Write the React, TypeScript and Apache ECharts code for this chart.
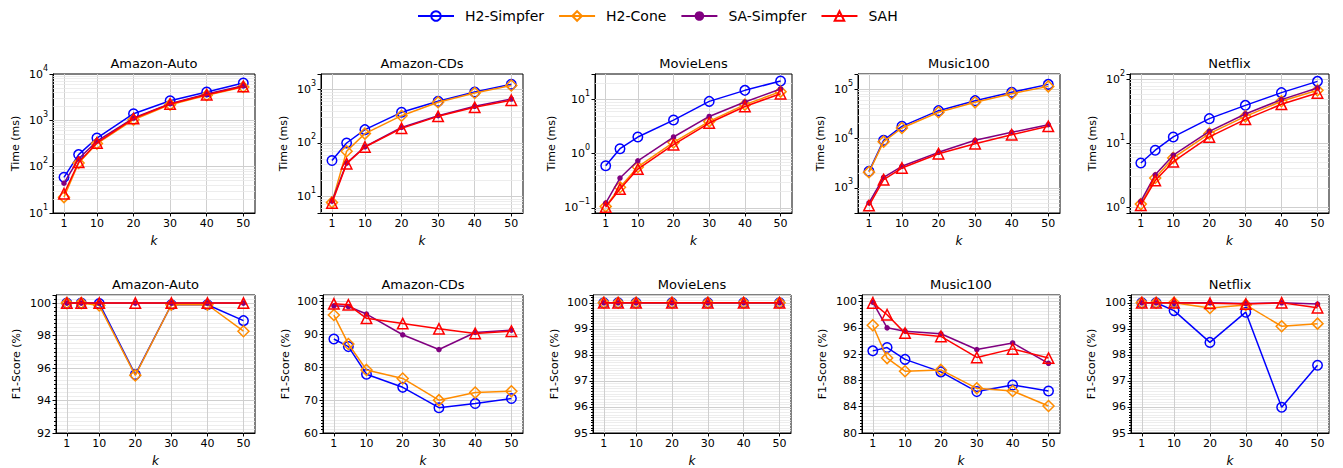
import React, { useEffect, useRef } from 'react';
import * as echarts from 'echarts';

const K = [1, 5, 10, 20, 30, 40, 50];
const X_TICKS = [1, 10, 20, 30, 40, 50];
const DATASETS = ['Amazon-Auto', 'Amazon-CDs', 'MovieLens', 'Music100', 'Netflix'];
const METHODS = ['H2-Simpfer', 'H2-Cone', 'SA-Simpfer', 'SAH'];

// ---- Time (ms) ----
const timeAutoH2S = [59, 182, 415, 1390, 2650, 4100, 6400];
const timeAutoH2C = [22, 120, 315, 1030, 2180, 3480, 5250];
const timeAutoSAS = [44, 148, 355, 1120, 2290, 3700, 5600];
const timeAutoSAH = [26, 124, 325, 1090, 2250, 3580, 5400];

const timeCDsH2S = [47, 100, 178, 376, 605, 905, 1260];
const timeCDsH2C = [7.7, 70, 150, 325, 580, 865, 1200];
const timeCDsSAS = [8.1, 42, 85, 196, 325, 487, 668];
const timeCDsSAH = [7.5, 41, 84, 188, 316, 466, 632];

const timeMLH2S = [0.6, 1.24, 2.04, 4.2, 9.3, 14.9, 22.2];
const timeMLH2C = [0.106, 0.24, 0.57, 1.62, 3.97, 8.1, 14.1];
const timeMLSAS = [0.122, 0.355, 0.74, 2.04, 4.9, 9.05, 15.8];
const timeMLSAH = [0.103, 0.222, 0.52, 1.47, 3.7, 7.5, 12.9];

const timeMusicH2S = [2170, 9180, 17600, 36500, 58100, 85700, 124000];
const timeMusicH2C = [2090, 8630, 16300, 33800, 53800, 80500, 113000];
const timeMusicSAS = [498, 1640, 2740, 5250, 9180, 13300, 19000];
const timeMusicSAH = [440, 1470, 2530, 4930, 7860, 11900, 17600];

const timeNetH2S = [4.9, 7.8, 12.6, 24.4, 39.5, 62.5, 94];
const timeNetH2C = [1.11, 2.85, 5.9, 14.2, 26.5, 45.7, 68];
const timeNetSAS = [1.23, 3.2, 6.5, 15.4, 28.9, 48.6, 74];
const timeNetSAH = [1.07, 2.6, 5.15, 12.6, 23.8, 41, 61.8];

// ---- F1-Score (%) ----
const f1AutoH2S = [100, 100, 99.98, 95.6, 99.9, 99.9, 98.92];
const f1AutoH2C = [100, 100, 99.85, 95.55, 99.9, 99.9, 98.27];
const f1AutoSAS = [100, 100, 100, 100, 100, 100, 100];
const f1AutoSAH = [100, 100, 100, 100, 100, 100, 100];

const f1CDsH2S = [88.6, 86.3, 77.9, 73.9, 67.7, 69.0, 70.5];
const f1CDsH2C = [95.9, 87.1, 79.2, 76.6, 70.0, 72.3, 72.7];
const f1CDsSAS = [98.7, 98.5, 96.2, 89.9, 85.4, 90.6, 91.3];
const f1CDsSAH = [99.3, 99.0, 94.9, 93.3, 91.7, 90.3, 91.0];

const f1MLH2S = [100, 100, 100, 100, 100, 100, 100];
const f1MLH2C = [100, 100, 100, 100, 100, 100, 100];
const f1MLSAS = [100, 100, 100, 100, 100, 100, 100];
const f1MLSAH = [100, 100, 100, 100, 100, 100, 100];

const f1MusicH2S = [92.5, 93.0, 91.2, 89.3, 86.3, 87.3, 86.4];
const f1MusicH2C = [96.4, 91.4, 89.4, 89.6, 86.8, 86.4, 84.1];
const f1MusicSAS = [99.9, 96.0, 95.5, 95.1, 92.7, 93.7, 90.6];
const f1MusicSAH = [99.8, 98.0, 95.2, 94.7, 91.5, 92.8, 91.4];

const f1NetH2S = [100, 100, 99.7, 98.48, 99.64, 95.99, 97.6];
const f1NetH2C = [100, 100, 100, 99.8, 99.92, 99.1, 99.2];
const f1NetSAS = [100, 100, 100, 100, 99.97, 100, 99.95];
const f1NetSAH = [100, 100, 100, 99.98, 99.95, 100, 99.81];

const TIME_TABLE = [
  [timeAutoH2S, timeAutoH2C, timeAutoSAS, timeAutoSAH],
  [timeCDsH2S, timeCDsH2C, timeCDsSAS, timeCDsSAH],
  [timeMLH2S, timeMLH2C, timeMLSAS, timeMLSAH],
  [timeMusicH2S, timeMusicH2C, timeMusicSAS, timeMusicSAH],
  [timeNetH2S, timeNetH2C, timeNetSAS, timeNetSAH],
];
const F1_TABLE = [
  [f1AutoH2S, f1AutoH2C, f1AutoSAS, f1AutoSAH],
  [f1CDsH2S, f1CDsH2C, f1CDsSAS, f1CDsSAH],
  [f1MLH2S, f1MLH2C, f1MLSAS, f1MLSAH],
  [f1MusicH2S, f1MusicH2C, f1MusicSAS, f1MusicSAH],
  [f1NetH2S, f1NetH2C, f1NetSAS, f1NetSAH],
];

// axis ranges
const TIME_MIN = [10, 4.87, 0.08, 312, 0.805];
const TIME_MAX = [10000, 1966, 29.9, 201000, 122.7];
const F1_MIN = [92, 60, 95, 80, 95];
const F1_MAX = [100.5, 102, 100.3, 101, 100.3];
const F1_INTERVAL = [2, 10, 1, 4, 1];
const F1_MINOR = [8, 10, 10, 8, 10];

// layout
const X_MIN = -2;
const X_MAX = 53.2;
const TOP_LEFT = [53, 321, 595, 858, 1130];
const TOP_W = [202, 202, 197, 202, 199];
const BOT_LEFT = [56, 323, 593, 862, 1131];
const BOT_W = [199, 200, 198, 198, 198];
const ROW_TOP = [74, 295];
const ROW_H = 139;
const TOP_NAMEGAP = [32, 32, 38, 32, 32];
const BOT_NAMEGAP = [34, 32, 33, 34, 34];

const COLORS = ['#0000ff', '#ff8c00', '#800080', '#ff0000'];
const SYMBOLS = ['circle', 'diamond', 'circle', 'triangle'];
const SYMBOL_SIZES = [9.5, 11, 5.5, 10.5];
const HOLLOW = [true, true, false, true];

const FONT = 'DejaVu Sans';
const TXT = '#000';
const MAJOR_GRID = '#cfcfcf';
const MINOR_GRID = '#e8e8e8';

function logLabel(v: number): string {
  const e = Math.log10(v);
  const r = Math.round(e);
  if (Math.abs(e - r) > 1e-6) return '';
  const es = r < 0 ? '\u2212' + -r : String(r);
  return `{b|10}{s|${es}}`;
}

function logGridLines(min: number, max: number) {
  const lines: any[] = [];
  const d0 = Math.floor(Math.log10(min));
  const d1 = Math.ceil(Math.log10(max));
  for (let d = d0; d <= d1; d++) {
    for (let m = 1; m <= 9; m++) {
      const v = m * Math.pow(10, d);
      if (v <= min * 1.0001 || v >= max * 0.9999) continue;
      lines.push({
        yAxis: v,
        lineStyle: { color: m === 1 ? MAJOR_GRID : MINOR_GRID, width: m === 1 ? 1 : 0.8, type: 'solid' },
      });
    }
  }
  return lines;
}

function buildOption() {
  const grid: any[] = [];
  const xAxis: any[] = [];
  const yAxis: any[] = [];
  const series: any[] = [];
  const title: any[] = [];

  for (let r = 0; r < 2; r++) {
    for (let c = 0; c < 5; c++) {
      const i = r * 5 + c;
      const left = r === 0 ? TOP_LEFT[c] : BOT_LEFT[c];
      const width = r === 0 ? TOP_W[c] : BOT_W[c];
      const top = ROW_TOP[r];
      grid.push({ left, top, width, height: ROW_H, show: true, borderColor: '#000', borderWidth: 1 });
      title.push({
        text: DATASETS[c],
        left: left + width / 2,
        top: top - 17,
        textAlign: 'center',
        padding: 0,
        textStyle: { fontSize: 13, fontWeight: 'normal', color: TXT, fontFamily: FONT },
      });
      xAxis.push({
        gridIndex: i,
        type: 'value',
        min: X_MIN,
        max: X_MAX,
        name: 'k',
        nameLocation: 'middle',
        nameGap: 22,
        nameTextStyle: { fontStyle: 'italic', fontSize: 12, color: TXT, fontFamily: FONT },
        axisLine: { show: true, onZero: false, lineStyle: { color: '#000', width: 1 } },
        axisTick: { show: true, customValues: X_TICKS, length: 3.5, lineStyle: { color: '#000' } },
        axisLabel: { customValues: X_TICKS, fontSize: 11, margin: 5, color: TXT, fontFamily: FONT },
        splitLine: { show: false },
      });
      if (r === 0) {
        yAxis.push({
          gridIndex: i,
          type: 'log',
          logBase: 10,
          min: TIME_MIN[c],
          max: TIME_MAX[c],
          name: 'Time (ms)',
          nameLocation: 'middle',
          nameGap: TOP_NAMEGAP[c],
          nameTextStyle: { fontSize: 11, color: TXT, fontFamily: FONT },
          axisLine: { show: true, onZero: false, lineStyle: { color: '#000', width: 1 } },
          axisTick: { show: true, length: 3.5, lineStyle: { color: '#000' } },
          axisLabel: {
            margin: 5,
            color: TXT,
            fontFamily: FONT,
            formatter: (v: number) => logLabel(v),
            rich: {
              b: { fontSize: 11, fontFamily: FONT, color: TXT, lineHeight: 20 },
              s: { fontSize: 8, fontFamily: FONT, color: TXT, lineHeight: 11, verticalAlign: 'top' },
            },
          },
          splitLine: { show: false },
        });
      } else {
        yAxis.push({
          gridIndex: i,
          type: 'value',
          min: F1_MIN[c],
          max: F1_MAX[c],
          interval: F1_INTERVAL[c],
          name: 'F1-Score (%)',
          nameLocation: 'middle',
          nameGap: BOT_NAMEGAP[c],
          nameTextStyle: { fontSize: 11, color: TXT, fontFamily: FONT },
          axisLine: { show: true, onZero: false, lineStyle: { color: '#000', width: 1 } },
          axisTick: { show: true, length: 3.5, lineStyle: { color: '#000' } },
          minorTick: { show: true, splitNumber: F1_MINOR[c], length: 2, lineStyle: { color: '#000' } },
          axisLabel: { fontSize: 11, margin: 5, color: TXT, fontFamily: FONT, showMaxLabel: false },
          splitLine: { show: true, lineStyle: { color: MAJOR_GRID, width: 1 } },
          minorSplitLine: { show: true, lineStyle: { color: MINOR_GRID, width: 0.8 } },
        });
      }

      // grid lines (vertical at x ticks; log minor/major on time rows)
      const mlData: any[] = X_TICKS.map((x) => ({
        xAxis: x,
        lineStyle: { color: MAJOR_GRID, width: 1, type: 'solid' },
      }));
      if (r === 0) mlData.push(...logGridLines(TIME_MIN[c], TIME_MAX[c]));
      series.push({
        type: 'line',
        xAxisIndex: i,
        yAxisIndex: i,
        data: [],
        silent: true,
        z: 1,
        markLine: {
          silent: true,
          symbol: ['none', 'none'],
          label: { show: false },
          animation: false,
          z: 1,
          data: mlData,
        },
      });

      const table = r === 0 ? TIME_TABLE : F1_TABLE;
      METHODS.forEach((m, j) => {
        const vals = table[c][j];
        series.push({
          type: 'line',
          name: m,
          xAxisIndex: i,
          yAxisIndex: i,
          data: K.map((k, idx) => [k, vals[idx]]),
          color: COLORS[j],
          symbol: SYMBOLS[j],
          symbolSize: SYMBOL_SIZES[j],
          showAllSymbol: true,
          clip: false,
          silent: true,
          z: 3 + j,
          lineStyle: { color: COLORS[j], width: 1.5 },
          itemStyle: HOLLOW[j]
            ? { color: 'rgba(255,255,255,0)', borderColor: COLORS[j], borderWidth: 1.5 }
            : { color: COLORS[j], borderColor: COLORS[j], borderWidth: 0 },
          emphasis: { disabled: true },
        });
      });
    }
  }

  return {
    animation: false,
    backgroundColor: '#fff',
    textStyle: { fontFamily: FONT },
    title,
    legend: {
      data: METHODS,
      left: 412,
      top: 4,
      itemWidth: 36,
      itemHeight: 12,
      itemGap: 14,
      textStyle: { fontSize: 14, color: TXT, fontFamily: FONT, padding: [0, 0, 0, 6] },
    },
    grid,
    xAxis,
    yAxis,
    series,
  };
}

export default function App() {
  const ref = useRef<HTMLDivElement>(null);
  useEffect(() => {
    if (!ref.current) return;
    const chart = echarts.init(ref.current, null, { renderer: 'svg' });
    chart.setOption(buildOption() as any);
    return () => chart.dispose();
  }, []);
  return (
    <div
      ref={ref}
      style={{ position: 'fixed', left: 0, top: 0, width: 1343, height: 468 }}
    />
  );
}
